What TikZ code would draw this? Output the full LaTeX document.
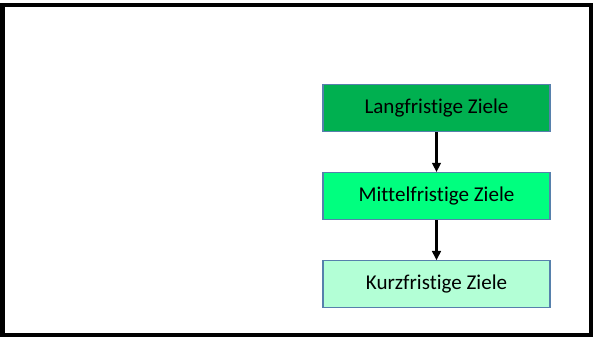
\documentclass[tikz,border=0pt]{standalone}
\usepackage{fontspec}
\setmainfont{Carlito}[Ligatures=NoCommon]
\usetikzlibrary{positioning}
\usetikzlibrary{arrows.meta}

\definecolor{zielA}{HTML}{00B050}
\definecolor{zielB}{HTML}{00FF7F}
\definecolor{zielC}{HTML}{B3FFD6}
\definecolor{randblau}{HTML}{5680AC}

\begin{document}
\begin{tikzpicture}[
    x=0.75pt, y=-0.75pt,
    node distance=40*0.75pt,
    ziel/.style={
        draw=randblau,
        line width=0.9pt,
        minimum width=227*0.75pt,
        minimum height=47*0.75pt,
        align=center,
        font=\fontsize{15.8pt}{18pt}\selectfont,
        inner sep=0pt
    },
    pfeil/.style={-{Triangle[length=7pt,width=6.5pt]}, line width=1.9pt}
]
\useasboundingbox (0,0) rectangle (593,338);
\draw[line width=3pt] (2.5,5.5) rectangle (590.5,335);

% Ziele
\node[ziel, fill=zielA] (lang) at (436.5,108) {Langfristige Ziele};
\node[ziel, fill=zielB, below=of lang] (mittel) {Mittelfristige Ziele};
\node[ziel, fill=zielC, below=of mittel] (kurz) {Kurzfristige Ziele};

% Pfeile
\draw[pfeil] (lang) -- (mittel);
\draw[pfeil] (mittel) -- (kurz);

\end{tikzpicture}
\end{document}
